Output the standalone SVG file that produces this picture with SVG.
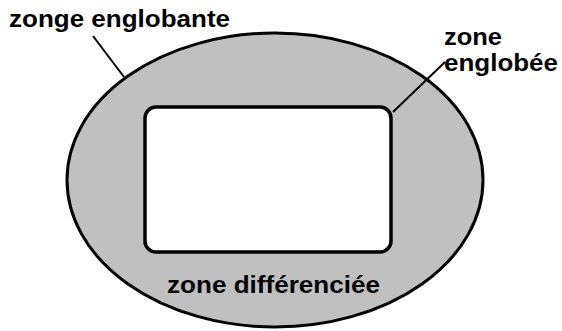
<svg xmlns="http://www.w3.org/2000/svg" width="562" height="331" viewBox="0 0 562 331">
<style>
.lbl{font-family:"Liberation Sans",Arial,sans-serif;font-weight:bold;font-size:24px;fill:#000}
.ln{stroke:#000;stroke-width:2;fill:none}
</style>
<rect width="562" height="331" fill="#fff"/>
<g id="zone-englobante">
<ellipse cx="275" cy="180" rx="208" ry="147" fill="#c0c0c0" stroke="#000" stroke-width="3"/>
</g>
<g id="zone-englobee">
<rect x="145" y="107" width="246" height="145" rx="11" fill="#fff" stroke="#000" stroke-width="3.5"/>
</g>
<g id="connectors">
<line class="ln" x1="93" y1="36" x2="124" y2="77"/>
<line class="ln" x1="445" y1="62" x2="393" y2="112"/>
</g>
<g id="labels">
<text class="lbl" x="9" y="26.5" textLength="221" lengthAdjust="spacingAndGlyphs">zonge englobante</text>
<text class="lbl" x="444" y="44.5" textLength="58" lengthAdjust="spacingAndGlyphs">zone</text>
<text class="lbl" x="444" y="70.5" textLength="114" lengthAdjust="spacingAndGlyphs">englobée</text>
<text class="lbl" x="167" y="292.5" textLength="213" lengthAdjust="spacingAndGlyphs">zone différenciée</text>
</g>
</svg>
